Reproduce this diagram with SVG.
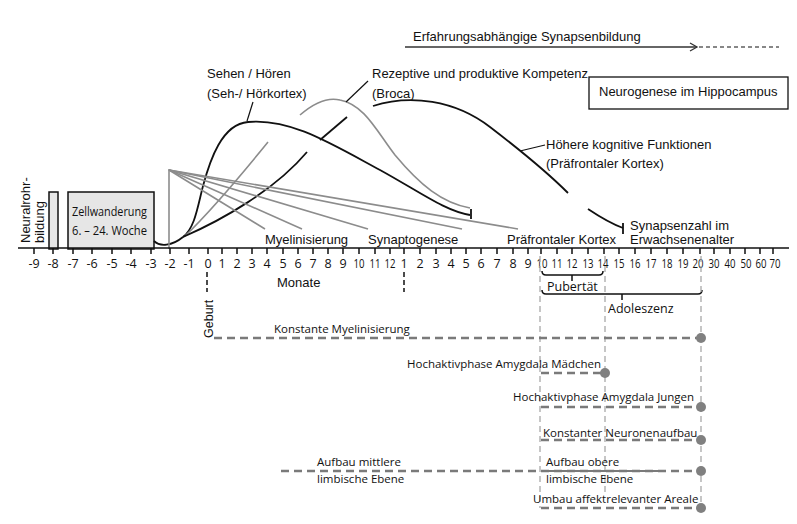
<svg xmlns="http://www.w3.org/2000/svg" width="797" height="524" viewBox="0 0 797 524">
<style>
.h{font-family:"Liberation Sans",Arial,sans-serif;font-size:13px;fill:#111}
.f{font-family:"Open Sans","Noto Sans",sans-serif;font-size:11.5px;fill:#111}
.t{font-family:"Open Sans","Noto Sans",sans-serif;font-size:12.5px;fill:#111;text-anchor:middle}
.blk{fill:none;stroke:#111;stroke-width:1.8}
.gry{fill:none;stroke:#8c8c8c;stroke-width:1.6}
.ax{fill:none;stroke:#111;stroke-width:1.5}
.dl{fill:none;stroke:#7a7a7a;stroke-width:2.6;stroke-dasharray:8 5}
.vl{fill:none;stroke:#a8a8a8;stroke-width:1.3;stroke-dasharray:6 4}
.dot{fill:#808080}
.box{fill:#e6e6e6;stroke:#111;stroke-width:1.5}
</style>
<defs>
<marker id="open" markerWidth="10" markerHeight="10" refX="8" refY="5" orient="auto" markerUnits="userSpaceOnUse">
<path d="M1,1 L8,5 L1,9" fill="none" stroke="#333" stroke-width="1.3"/>
</marker>
</defs>

<g id="top-arrow">
<text class="h" x="413" y="41">Erfahrungsabhängige Synapsenbildung</text>
<line x1="405" y1="47" x2="697" y2="47" stroke="#333" stroke-width="1.6" marker-end="url(#open)"/>
<line x1="699" y1="47" x2="779" y2="47" stroke="#111" stroke-width="1.2" stroke-dasharray="4 3"/>
</g>

<g id="neurogenese">
<rect x="589" y="77" width="199" height="32" fill="#fff" stroke="#111" stroke-width="1.3"/>
<text class="h" x="599" y="96">Neurogenese im Hippocampus</text>
</g>

<g id="neuralrohr">
<text class="h" transform="translate(30,243) rotate(-90)">Neuralrohr-</text>
<text class="h" transform="translate(44,243) rotate(-90)">bildung</text>
<rect class="box" x="49" y="192" width="9" height="57"/>
</g>

<g id="zellwanderung">
<rect class="box" x="68" y="192" width="86" height="57"/>
<text class="f" x="72" y="216" style="font-size:13px" textLength="75" lengthAdjust="spacingAndGlyphs">Zellwanderung</text>
<text class="f" x="72" y="235" style="font-size:13px" textLength="75" lengthAdjust="spacingAndGlyphs">6. – 24. Woche</text>
</g>

<g id="curves">
<path class="blk" d="M154,241 C160,247 172,246 183,237"/>
<path class="blk" d="M183,237 C195,228 198,205 203,186 C210,160 222,124 248,122 C290,118 330,143 380,170 C420,192 445,211 470,215"/>
<line class="blk" x1="471" y1="209" x2="471" y2="219"/>
<path class="gry" d="M185,236 C212,210 242,174 268,142"/>
<path class="blk" d="M183,237 C222,220 275,190 307,152"/>
<path class="blk" d="M320,140 L347,117"/>
<path class="gry" d="M300,115 C315,102 328,97 340,100 C365,105 377,132 395,155 C420,185 442,203 470,208"/>
<path class="blk" d="M373,106 C410,94 455,100 490,127 C520,150 545,170 568,193"/>
<path class="blk" d="M588,209 C600,217 612,224 623,228"/>
<line class="blk" x1="623" y1="223" x2="623" y2="234"/>
</g>

<g id="fan">
<line class="gry" x1="169" y1="169" x2="169" y2="249"/>
<line class="gry" x1="169" y1="170" x2="265" y2="229"/>
<line class="gry" x1="169" y1="170" x2="302" y2="229"/>
<line class="gry" x1="169" y1="170" x2="368" y2="229"/>
<line class="gry" x1="169" y1="170" x2="462" y2="229"/>
<line class="gry" x1="169" y1="170" x2="518" y2="229"/>
</g>

<g id="labels-top">
<text class="h" x="207" y="78">Sehen / Hören</text>
<text class="h" x="207" y="98">(Seh-/ Hörkortex)</text>
<line x1="253" y1="102" x2="247" y2="121" stroke="#111" stroke-width="1.2"/>
<text class="h" x="372" y="78">Rezeptive und produktive Kompetenz</text>
<text class="h" x="372" y="98">(Broca)</text>
<line x1="368" y1="81" x2="346" y2="102" stroke="#111" stroke-width="1.2"/>
<text class="h" x="546" y="149">Höhere kognitive Funktionen</text>
<text class="h" x="546" y="168">(Präfrontaler Kortex)</text>
<line x1="545" y1="145" x2="520" y2="151" stroke="#111" stroke-width="1.2"/>
<text class="h" x="630" y="230">Synapsenzahl im</text>
<text class="h" x="630" y="244">Erwachsenenalter</text>
<text class="h" x="265" y="244">Myelinisierung</text>
<text class="h" x="368" y="244">Synaptogenese</text>
<text class="h" x="507" y="244">Präfrontaler Kortex</text>
</g>

<g id="axis">
<line class="ax" x1="18" y1="248" x2="789" y2="248"/>
<path class="ax" d="M34,248v6M53,248v6M73,248v6M92,248v6M112,248v6M131,248v6M151,248v6M170,248v6M189,248v6M208,248v6M222,248v6M237,248v6M252,248v6M267,248v6M283,248v6M298,248v6M313,248v6M328,248v6M343,248v6M359,248v6M375,248v6M390,248v6M404,248v6M420,248v6M436,248v6M451,248v6M466,248v6M481,248v6M497,248v6M513,248v6M528,248v6M541,248v6M557,248v6M572,248v6M588,248v6M604,248v6M619,248v6M635,248v6M651,248v6M667,248v6M683,248v6M700,248v6M714,248v6M730,248v6M745,248v6M760,248v6M773,248v6"/>
<text class="t" x="34" y="268">-9</text><text class="t" x="53" y="268">-8</text><text class="t" x="73" y="268">-7</text><text class="t" x="92" y="268">-6</text><text class="t" x="112" y="268">-5</text><text class="t" x="131" y="268">-4</text><text class="t" x="151" y="268">-3</text><text class="t" x="170" y="268">-2</text><text class="t" x="189" y="268">-1</text><text class="t" x="208" y="268">0</text><text class="t" x="222" y="268">1</text><text class="t" x="237" y="268">2</text><text class="t" x="252" y="268">3</text><text class="t" x="267" y="268">4</text><text class="t" x="283" y="268">5</text><text class="t" x="298" y="268">6</text><text class="t" x="313" y="268">7</text><text class="t" x="328" y="268">8</text><text class="t" x="343" y="268">9</text><text class="t" x="359" y="268" textLength="11" lengthAdjust="spacingAndGlyphs">10</text><text class="t" x="375" y="268" textLength="11" lengthAdjust="spacingAndGlyphs">11</text><text class="t" x="390" y="268" textLength="11" lengthAdjust="spacingAndGlyphs">12</text>
<text class="t" x="404" y="268">1</text><text class="t" x="420" y="268">2</text><text class="t" x="436" y="268">3</text><text class="t" x="451" y="268">4</text><text class="t" x="466" y="268">5</text><text class="t" x="481" y="268">6</text><text class="t" x="497" y="268">7</text><text class="t" x="513" y="268">8</text><text class="t" x="528" y="268">9</text><text class="t" x="542" y="268" textLength="11" lengthAdjust="spacingAndGlyphs">10</text><text class="t" x="557" y="268" textLength="11" lengthAdjust="spacingAndGlyphs">11</text><text class="t" x="572" y="268" textLength="11" lengthAdjust="spacingAndGlyphs">12</text><text class="t" x="588" y="268" textLength="11" lengthAdjust="spacingAndGlyphs">13</text><text class="t" x="603" y="268" textLength="11" lengthAdjust="spacingAndGlyphs">14</text><text class="t" x="619" y="268" textLength="11" lengthAdjust="spacingAndGlyphs">15</text><text class="t" x="635" y="268" textLength="11" lengthAdjust="spacingAndGlyphs">16</text><text class="t" x="651" y="268" textLength="11" lengthAdjust="spacingAndGlyphs">17</text><text class="t" x="667" y="268" textLength="11" lengthAdjust="spacingAndGlyphs">18</text><text class="t" x="683" y="268" textLength="11" lengthAdjust="spacingAndGlyphs">19</text><text class="t" x="698" y="268" textLength="11" lengthAdjust="spacingAndGlyphs">20</text><text class="t" x="714" y="268" textLength="11" lengthAdjust="spacingAndGlyphs">30</text><text class="t" x="730" y="268" textLength="11" lengthAdjust="spacingAndGlyphs">40</text><text class="t" x="746" y="268" textLength="11" lengthAdjust="spacingAndGlyphs">50</text><text class="t" x="761" y="268" textLength="11" lengthAdjust="spacingAndGlyphs">60</text><text class="t" x="775" y="268" textLength="11" lengthAdjust="spacingAndGlyphs">70</text>
<text class="h" x="277" y="287">Monate</text>
<line x1="207" y1="272" x2="207" y2="292" stroke="#111" stroke-width="1.5" stroke-dasharray="5 3"/>
<line x1="404" y1="272" x2="404" y2="292" stroke="#111" stroke-width="1.5" stroke-dasharray="5 3"/>
<text class="h" transform="translate(213,338) rotate(-90)" style="font-size:12.5px">Geburt</text>
</g>

<g id="pubertaet">
<path class="ax" d="M542,271 Q542,275 546,275 L599,275 Q603,275 603,271 M572,275 V281"/>
<text class="f" x="547" y="291" style="font-size:12.5px">Pubertät</text>
</g>

<g id="adoleszenz">
<path class="ax" d="M542,290 Q542,294 546,294 L698,294 Q702,294 702,290 M622,294 V300"/>
<text class="f" x="608" y="313" style="font-size:12.5px">Adoleszenz</text>
</g>

<g id="verticals">
<line class="vl" x1="540" y1="256" x2="540" y2="508"/>
<line class="vl" x1="605" y1="256" x2="605" y2="492"/>
<line class="vl" x1="701" y1="256" x2="701" y2="508"/>
</g>

<g id="myelinisierung">
<line class="dl" x1="214" y1="338" x2="701" y2="338"/>
<circle class="dot" cx="701" cy="338" r="5"/>
<text class="f" x="274" y="333">Konstante Myelinisierung</text>
</g>

<g id="amygdala-maedchen">
<line class="dl" x1="541" y1="373" x2="605" y2="373"/>
<circle class="dot" cx="605" cy="373" r="5"/>
<text class="f" x="407" y="368">Hochaktivphase Amygdala Mädchen</text>
</g>

<g id="amygdala-jungen">
<line class="dl" x1="541" y1="407" x2="701" y2="407"/>
<circle class="dot" cx="701" cy="407" r="5"/>
<text class="f" x="513" y="401">Hochaktivphase Amygdala Jungen</text>
</g>

<g id="neuronenaufbau">
<line class="dl" x1="541" y1="440" x2="701" y2="440"/>
<circle class="dot" cx="701" cy="440" r="5"/>
<text class="f" x="543" y="437">Konstanter Neuronenaufbau</text>
</g>

<g id="limbisch">
<line class="dl" x1="281" y1="471" x2="701" y2="471"/>
<line x1="541" y1="471" x2="665" y2="471" stroke="#7a7a7a" stroke-width="2"/>
<circle class="dot" cx="701" cy="471" r="5"/>
<text class="f" x="317" y="466">Aufbau mittlere</text>
<text class="f" x="317" y="483">limbische Ebene</text>
<text class="f" x="546" y="466">Aufbau obere</text>
<text class="f" x="546" y="483">limbische Ebene</text>
</g>

<g id="umbau">
<line class="dl" x1="541" y1="508" x2="701" y2="508"/>
<circle class="dot" cx="701" cy="508" r="5"/>
<text class="f" x="533" y="503">Umbau affektrelevanter Areale</text>
</g>
</svg>
